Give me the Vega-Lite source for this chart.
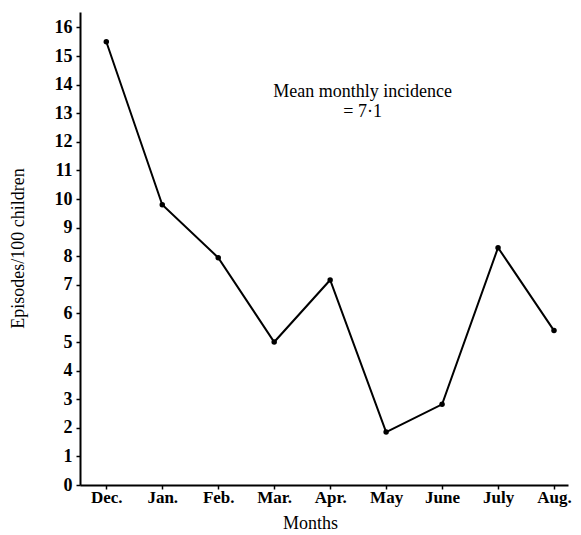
{
  "$schema": "https://vega.github.io/schema/vega-lite/v6.json",
  "autosize": {"type": "none"},
  "padding": {"left": 80, "top": 12, "right": 13, "bottom": 50},
  "width": 488,
  "height": 473,
  "background": "white",
  "config": {
    "view": {"stroke": null},
    "font": "Liberation Serif",
    "axis": {"grid": false, "ticks": true, "domainColor": "black", "domainWidth": 2, "tickColor": "black", "tickWidth": 1.5, "labelColor": "black", "titleColor": "black", "labelFont": "Liberation Serif", "titleFont": "Liberation Serif", "labelFontWeight": "bold", "titleFontWeight": "normal", "labelOverlap": false, "labelFlush": false}
  },
  "datasets": {
    "incidence": [
      {"month": "Dec.", "idx": 0, "value": 15.5},
      {"month": "Jan.", "idx": 1, "value": 9.8},
      {"month": "Feb.", "idx": 2, "value": 7.95},
      {"month": "Mar.", "idx": 3, "value": 5.0},
      {"month": "Apr.", "idx": 4, "value": 7.17},
      {"month": "May", "idx": 5, "value": 1.85},
      {"month": "June", "idx": 6, "value": 2.82},
      {"month": "July", "idx": 7, "value": 8.3},
      {"month": "Aug.", "idx": 8, "value": 5.4}
    ],
    "note": [
      {"idx": 4.58, "value": 13.74, "label": "Mean monthly incidence"},
      {"idx": 4.58, "value": 13.04, "label": "= 7·1"}
    ]
  },
  "layer": [
    {
      "data": {"name": "incidence"},
      "mark": {"type": "line", "color": "black", "strokeWidth": 2},
      "encoding": {
        "x": {
          "field": "idx", "type": "quantitative",
          "scale": {"domain": [-0.47, 8.25], "nice": false, "zero": false},
          "axis": {
            "values": [0, 1, 2, 3, 4, 5, 6, 7, 8],
            "labelOverlap": false,
            "labelExpr": "['Dec.','Jan.','Feb.','Mar.','Apr.','May','June','July','Aug.'][datum.value]",
            "ticks": true, "tickSize": 4, "labelPadding": 0, "labelFontSize": 17,
            "title": "Months", "titleFontSize": 18, "titleX": 230, "titleY": 29, "titleBaseline": "top"
          }
        },
        "y": {
          "field": "value", "type": "quantitative",
          "scale": {"domain": [0, 16.54], "nice": false},
          "axis": {
            "values": [0, 1, 2, 3, 4, 5, 6, 7, 8, 9, 10, 11, 12, 13, 14, 15, 16],
            "tickCount": 17,
            "labelOverlap": false,
            "ticks": true, "tickSize": 4, "labelPadding": 4, "labelFontSize": 18,
            "title": "Episodes/100 children", "titleFontSize": 18, "titleX": -62, "titleY": 236, "titleAngle": -90, "titleAlign": "center", "titleBaseline": "middle"
          }
        }
      }
    },
    {
      "data": {"name": "incidence"},
      "mark": {"type": "point", "filled": true, "color": "black", "size": 30, "opacity": 1},
      "encoding": {
        "x": {"field": "idx", "type": "quantitative"},
        "y": {"field": "value", "type": "quantitative"}
      }
    },
    {
      "data": {"name": "note"},
      "mark": {"type": "text", "fontSize": 18, "color": "black", "font": "Liberation Serif"},
      "encoding": {
        "x": {"field": "idx", "type": "quantitative"},
        "y": {"field": "value", "type": "quantitative"},
        "text": {"field": "label"}
      }
    }
  ]
}
